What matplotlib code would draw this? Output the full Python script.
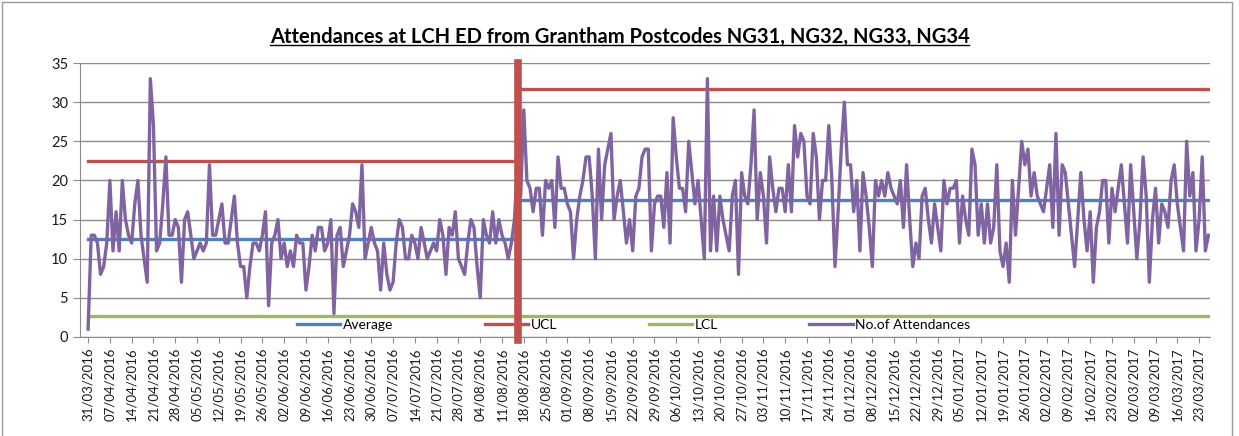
import matplotlib.pyplot as plt
from matplotlib.lines import Line2D
from matplotlib.patches import Rectangle
import pandas as pd
import numpy as np

plt.rcParams["font.family"] = ["Lato", "DejaVu Sans"]

# daily attendances, 31/03/2016 onwards
start_date = "2016-03-31"
attend_before = [
    1, 13, 13, 12, 8, 9, 12, 20, 11, 16,
    11, 20, 15, 13, 12, 17, 20, 13, 10, 7,
    33, 27, 11, 12, 17, 23, 13, 13, 15, 14,
    7, 15, 16, 13, 10, 11, 12, 11, 12, 22,
    13, 13, 15, 17, 12, 12, 15, 18, 12, 9,
    9, 5, 9, 12, 12, 11, 13, 16, 4, 12,
    13, 15, 10, 12, 9, 11, 9, 13, 12, 12,
    6, 9, 13, 11, 14, 14, 11, 12, 15, 3,
    13, 14, 9, 11, 13, 17, 16, 14, 22, 10,
    12, 14, 12, 11, 6, 12, 8, 6, 7, 12,
    15, 14, 10, 10, 13, 12, 10, 14, 12, 10,
    11, 12, 11, 15, 13, 8, 14, 13,
    16, 10, 9, 8, 12, 15, 14, 9, 5, 15,
    13, 12, 16, 12, 15, 13, 12, 10, 12, 15,
]
attend_after = [
    22, 18, 29, 20, 19, 16, 19, 19, 13, 20,
    19, 20, 14, 23, 19, 19, 17, 16, 10, 15,
    18, 20, 23, 23, 18, 10, 24, 15, 22, 24,
    26, 15, 18, 20, 16, 12, 15, 11, 18, 19,
    23, 24, 24, 11, 17, 18, 18, 14, 21, 12,
    28, 23, 19, 19, 16, 25, 21, 17, 20, 15,
    10, 33, 11, 18, 11, 18, 15, 13, 11, 18,
    20, 8, 21, 18, 17, 22, 29, 15, 21, 18,
    12, 23, 19, 16, 19, 19, 16, 22, 16, 27,
    23, 26, 25, 18, 17, 26, 23, 15, 20, 20,
    27, 20, 9, 16, 24, 30, 22, 22, 16, 20,
    11, 21, 18, 14, 9, 20, 18, 20, 18, 21,
    19, 18, 17, 20, 14, 22, 15, 9, 12, 10,
    18, 19, 15, 12, 17, 14, 11, 20, 17, 19,
    19, 20, 12, 18, 15, 13, 24, 22, 13, 17,
    12, 17, 12, 14, 22, 11, 9, 12, 7, 20,
    13, 19, 25, 22, 24, 18, 21, 18, 17, 16,
    19, 22, 14, 26, 13, 22, 21, 17, 13, 9,
    15, 21, 15, 11, 16, 7, 14, 16, 20, 20,
    12, 19, 16, 19, 22, 17, 12, 22, 16, 10,
    15, 23, 18, 7, 15, 19, 12, 17, 16, 14,
    20, 22, 17, 14, 11, 25, 18, 21, 11, 15,
    23, 11, 13,
]
average_levels = [12.5, 17.5]
ucl_levels = [22.5, 31.7]
lcl_level = 2.7

BLUE = "#4F81BD"
RED = "#C0504D"
GREEN = "#9BBB59"
PURPLE = "#8064A2"
GRID = "#8C8C8C"

attend = attend_before + attend_after
dates = pd.date_range(start_date, periods=len(attend), freq="D")
x = np.arange(len(attend))
n1 = len(attend_before)
x1, x2 = x[:n1], x[n1:]

fig = plt.figure(figsize=(12.39, 4.36), dpi=100)
ax = fig.add_axes([80 / 1239, 1 - 337 / 436, 1130 / 1239, 274 / 436])

lw = 2.4
ax.plot(x1, [average_levels[0]] * len(x1), color=BLUE, lw=lw)
ax.plot(x2, [average_levels[1]] * len(x2), color=BLUE, lw=lw)
ax.plot(x1, [ucl_levels[0]] * len(x1), color=RED, lw=lw)
ax.plot(x2, [ucl_levels[1]] * len(x2), color=RED, lw=lw)
ax.plot(x, [lcl_level] * len(x), color=GREEN, lw=lw)
ax.plot(x, attend, color=PURPLE, lw=lw)
ax.axvline(n1, ymin=-0.012, ymax=1, color=RED, lw=5.5, clip_on=False, zorder=5)

ax.set_xlim(-2.6, len(x) - 0.5)
ax.set_ylim(0, 35)
ax.set_yticks(range(0, 36, 5))
ax.yaxis.grid(True, color=GRID, lw=1)
ax.set_axisbelow(True)

tick_pos = x[::7]
ax.set_xticks(tick_pos)
ax.set_xticklabels([d.strftime("%d/%m/%Y") for d in dates[::7]], rotation=90,
                   fontsize=9.5, color="#1a1a1a")
ax.tick_params(axis="y", labelsize=10.5, colors="#1a1a1a", length=5, color=GRID)
ax.tick_params(axis="x", length=4, color=GRID)

for side in ["top", "right"]:
    ax.spines[side].set_visible(False)
ax.spines["left"].set_color(GRID)
ax.spines["bottom"].set_color(GRID)

handles = [
    Line2D([], [], color=BLUE, lw=lw),
    Line2D([], [], color=RED, lw=lw),
    Line2D([], [], color=GREEN, lw=lw),
    Line2D([], [], color=PURPLE, lw=lw),
]
ax.legend(handles, ["Average", "UCL", "LCL", "No.of Attendances"], ncol=4,
          loc="center", bbox_to_anchor=(0.49, 0.045), frameon=False,
          fontsize=10, handlelength=3.1, handletextpad=0.2, columnspacing=6.6)

title = fig.text(0.5, 1 - 37 / 436,
                 "Attendances at LCH ED from Grantham Postcodes NG31, NG32, NG33, NG34",
                 ha="center", va="center", fontsize=14.5, fontweight="bold")

# outer chart border
fig.patches.append(Rectangle((2 / 1239, -0.05), 1230 / 1239, 1.05 - 2 / 436,
                             transform=fig.transFigure, fill=False,
                             edgecolor="#9A9A9A", lw=1))

# underline the title
fig.canvas.draw()
bb = title.get_window_extent().transformed(fig.transFigure.inverted())
fig.add_artist(Line2D([bb.x0, bb.x1], [bb.y0 + 0.004, bb.y0 + 0.004],
                      transform=fig.transFigure, color="black", lw=1))

fig.savefig("out.png", dpi=100)
